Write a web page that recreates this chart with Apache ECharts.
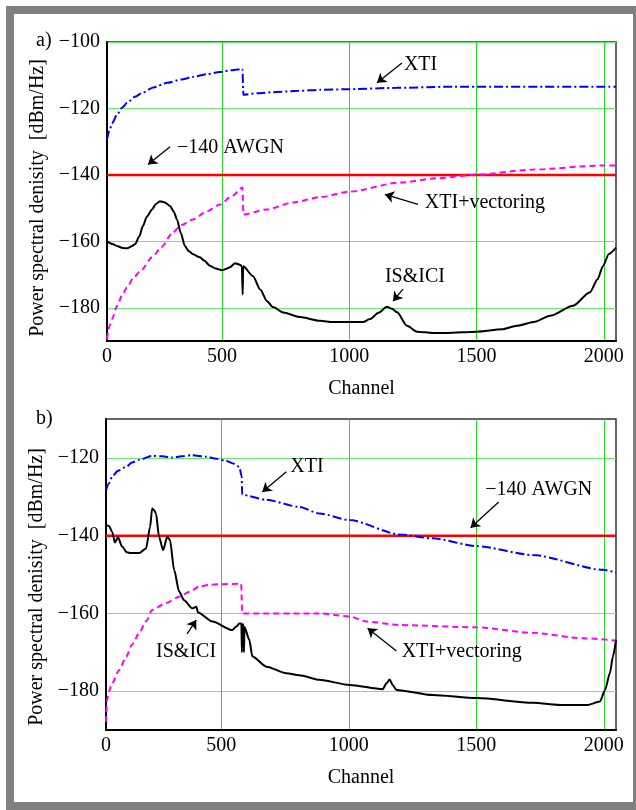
<!DOCTYPE html>
<html>
<head>
<meta charset="utf-8">
<script src="https://cdn.jsdelivr.net/npm/echarts@6/dist/echarts.min.js"></script>
<style>
  html, body { margin: 0; padding: 0; background: #fff; }
  #main { width: 636px; height: 810px; }
</style>
</head>
<body>
<div id="main"></div>
<script>
// x axis range (channel), tick labels
var xMin = 48, xMax = 2048
var xTickVals = [500, 1000, 1500, 2000]
var yTicksA = [-180, -160, -140, -120, -100]
var yTicksB = [-180, -160, -140, -120]
var awgnLevel = -140

// a) curves [channel, dBm/Hz]
var xtiA = [[48,-129.4],[58,-126.5],[68,-124.5],[87,-121.9],[107,-119.8],[127,-118.3],[158,-116.5],[189,-115.2],[230,-113.7],[284,-112.3],[340,-111.3],[386,-110.5],[440,-109.7],[492,-109],[540,-108.5],[580,-108.1],[584,-115.9],[640,-115.4],[700,-115.1],[800,-114.7],[885,-114.4],[1000,-114.2],[1187,-113.8],[1368,-113.5],[2048,-113.5]]
var vecA = [[48,-189.4],[58,-185.5],[68,-183.4],[87,-179.5],[107,-176.3],[127,-173.8],[150,-171.2],[178,-169],[229,-164.5],[260,-161.8],[307,-157.3],[340,-155.1],[386,-153.4],[440,-151],[492,-148.9],[540,-146.3],[580,-143.8],[584,-151.9],[676,-150.4],[778,-148.3],[885,-146.7],[1003,-145],[1199,-142.3],[1350,-141],[1502,-139.9],[1722,-138.4],[1985,-137.2],[2048,-137.2]]
var iciA = [[48,-160],[70,-160.8],[87,-161.4],[110,-162],[127,-162.1],[145,-161.5],[158,-160.9],[175,-158.5],[189,-155.4],[205,-152.5],[225,-150.4],[240,-148.8],[256,-147.9],[275,-148.3],[296,-149.4],[310,-151],[323,-153.4],[338,-157.5],[354,-161.4],[370,-163],[386,-163.9],[413,-164.8],[430,-165.8],[453,-167.4],[475,-168.2],[500,-168.7],[515,-168.3],[531,-167.8],[551,-166.6],[565,-166.9],[578,-167.4],[581,-176],[583,-167.5],[622,-170.5],[650,-174.5],[677,-178],[700,-179.8],[740,-181.4],[806,-182.8],[885,-183.9],[936,-184.3],[1054,-184.3],[1081,-183.4],[1115,-181.5],[1148,-179.7],[1168,-180.3],[1187,-181.3],[1227,-185.4],[1266,-187.2],[1329,-187.6],[1384,-187.6],[1502,-187.2],[1600,-186.5],[1659,-185.4],[1730,-184.2],[1789,-182.4],[1879,-179.4],[1946,-175.3],[1975,-171.5],[1997,-167.4],[2020,-163.8],[2048,-161.9]]

// b) curves
var xtiB = [[48,-128.3],[60,-126.5],[72,-124.8],[95,-123.3],[127,-122.3],[150,-121.2],[178,-120.5],[229,-119.5],[270,-119.6],[307,-119.9],[345,-119.6],[382,-119.3],[441,-119.7],[480,-120.2],[520,-120.8],[550,-121.5],[571,-122.3],[580,-124.8],[582,-129.5],[677,-130.8],[806,-132.6],[885,-134.3],[1003,-136],[1199,-139.7],[1329,-140.7],[1502,-142.7],[1722,-145],[1997,-148.8],[2048,-149.5]]
var vecB = [[48,-187.9],[52,-182.3],[60,-180],[72,-178],[99,-174.6],[127,-171.2],[150,-168],[178,-165.1],[205,-162],[229,-159.1],[284,-157.3],[335,-155.7],[380,-154.3],[413,-153.1],[450,-152.7],[492,-152.5],[578,-152.4],[582,-160],[885,-160],[1003,-160.8],[1070,-162.1],[1199,-163],[1502,-163.6],[1722,-165],[1918,-166.4],[2048,-167]]
var iciB = [[48,-137.3],[60,-137.5],[72,-139],[83,-141.8],[95,-140.4],[111,-142.8],[130,-144.3],[146,-144.5],[178,-144.5],[205,-143.3],[221,-137.7],[229,-133],[237,-133.5],[244,-134.3],[256,-140.3],[272,-143.7],[288,-140.3],[299,-141.1],[315,-148.8],[335,-154.4],[354,-156.6],[386,-158.7],[402,-158.3],[409,-159.8],[465,-162.1],[543,-164.3],[559,-163.4],[571,-162.6],[579,-162.6],[581,-170],[583,-162.8],[587,-162.8],[589,-170],[591,-163.5],[610,-166.8],[622,-171.1],[677,-173.7],[755,-175.4],[806,-175.9],[885,-177.1],[1003,-178.4],[1133,-179.5],[1148,-178],[1160,-177],[1172,-178.4],[1187,-179.7],[1329,-181],[1502,-181.8],[1722,-183],[1840,-183.6],[1934,-183.6],[1985,-182.7],[2005,-179.7],[2024,-175.4],[2036,-171.1],[2048,-166.8]]

// annotation texts [label, x, y] and arrows [x1, y1, x2, y2]
var notesA = [['XTI', 1280, -106.8], ['\u2212140 AWGN', 533, -131.7], ['XTI+vectoring', 1533, -148.3], ['IS&ICI', 1258, -170.7]]
var arrowsA = [[1207, -106.3, 1109, -112.3], [296, -131.5, 209, -136.9], [1270, -148.9, 1140, -145.9], [1211, -174.4, 1172, -178]]
var notesB = [['XTI', 836, -122.3], ['\u2212140 AWGN', 1745, -128.3], ['XTI+vectoring', 1443, -169.8], ['IS&ICI', 362, -169.8]]
var arrowsB = [[755, -123.6, 661, -128.8], [1588, -131.35, 1478, -138], [1187, -169.7, 1074, -163.8], [366, -165.3, 402, -161.7]]

var FONT = 'Liberation Serif'
var chart = echarts.init(document.getElementById('main'))

function minus(v) {
  return v < 0 ? '\u2212' + Math.abs(v) : String(v)
}

function xAxisFor(idx) {
  return {
    type: 'value', gridIndex: idx, min: xMin, max: xMax,
    name: 'Channel', nameLocation: 'middle', nameGap: 38,
    nameTextStyle: { fontFamily: FONT, fontSize: 20, color: '#000' },
    axisLine: { onZero: false, lineStyle: { color: '#000', width: 2 } },
    axisTick: { show: false, customValues: xTickVals },
    axisLabel: {
      customValues: [xMin].concat(xTickVals),
      formatter: function (v) { return v === xMin ? '0' : String(v) },
      fontFamily: FONT, fontSize: 20, color: '#000', margin: 6
    },
    splitLine: { show: true, lineStyle: { color: '#22dd22', width: 1 } }
  }
}

function yAxisFor(idx, min, max, ticks, pad) {
  return {
    type: 'value', gridIndex: idx, min: min, max: max,
    name: 'Power spectral denisity  [dBm/Hz]', nameLocation: 'middle', nameGap: 56,
    nameTextStyle: { fontFamily: FONT, fontSize: 20, color: '#000', padding: [0, pad, 0, 0] },
    axisLine: { lineStyle: { color: '#000', width: 2 } },
    axisTick: { show: false, customValues: ticks },
    axisLabel: {
      customValues: ticks, formatter: minus,
      fontFamily: FONT, fontSize: 20, color: '#000', margin: 7
    },
    splitLine: { show: true, lineStyle: { color: '#66ee66', width: 1 } }
  }
}

function curve(name, idx, data, color, type) {
  return {
    name: name, type: 'line', xAxisIndex: idx, yAxisIndex: idx,
    data: data, showSymbol: false, symbol: 'none',
    smooth: 0.25, smoothMonotone: 'x',
    lineStyle: { color: color, width: 2, type: type }
  }
}

function awgn(idx, notes, arrows) {
  var s = curve('AWGN', idx, [[xMin, awgnLevel], [xMax, awgnLevel]], '#ff0000', 'solid')
  s.lineStyle.width = 2.5
  s.smooth = false
  s.z = 1
  s.markPoint = {
    symbol: 'circle', symbolSize: 1, itemStyle: { color: 'rgba(0,0,0,0)' },
    label: { show: true, position: 'inside', color: '#000', fontFamily: FONT, fontSize: 20,
      formatter: function (p) { return p.name } },
    data: notes.map(function (n) { return { name: n[0], coord: [n[1], n[2]] } })
  }
  s.markLine = {
    silent: true, symbol: ['none', 'arrow'], symbolSize: 9,
    lineStyle: { color: '#000', width: 1.3, type: 'solid' },
    label: { show: false },
    data: arrows.map(function (a) { return [{ coord: [a[0], a[1]] }, { coord: [a[2], a[3]] }] })
  }
  return s
}

var option = {
  animation: false,
  backgroundColor: '#fff',
  title: [
    { text: 'a)', left: 31, top: 26, textStyle: { fontFamily: FONT, fontSize: 20, fontWeight: 'normal', color: '#000' } },
    { text: 'b)', left: 31, top: 404, textStyle: { fontFamily: FONT, fontSize: 20, fontWeight: 'normal', color: '#000' } }
  ],
  graphic: [{
    type: 'rect', silent: true, z: 100,
    shape: { x: 10, y: 10, width: 627, height: 796 },
    style: { fill: null, stroke: '#808080', lineWidth: 8 }
  }],
  grid: [
    { left: 107, top: 42, right: 20, bottom: 469, show: true, borderColor: '#333', borderWidth: 1.5 },
    { left: 106, top: 419, right: 20, bottom: 80, show: true, borderColor: '#333', borderWidth: 1.5 }
  ],
  xAxis: [xAxisFor(0), xAxisFor(1)],
  yAxis: [yAxisFor(0, -190, -100, yTicksA, 13), yAxisFor(1, -190, -110, yTicksB, 25)],
  series: [
    awgn(0, notesA, arrowsA),
    curve('XTI+vectoring', 0, vecA, '#ff00ff', [6, 4]),
    curve('XTI', 0, xtiA, '#0000ff', [9, 3, 2, 3]),
    curve('IS&ICI', 0, iciA, '#000000', 'solid'),
    awgn(1, notesB, arrowsB),
    curve('XTI+vectoring', 1, vecB, '#ff00ff', [6, 4]),
    curve('XTI', 1, xtiB, '#0000ff', [9, 3, 2, 3]),
    curve('IS&ICI', 1, iciB, '#000000', 'solid')
  ]
}
chart.setOption(option)
</script>
</body>
</html>
